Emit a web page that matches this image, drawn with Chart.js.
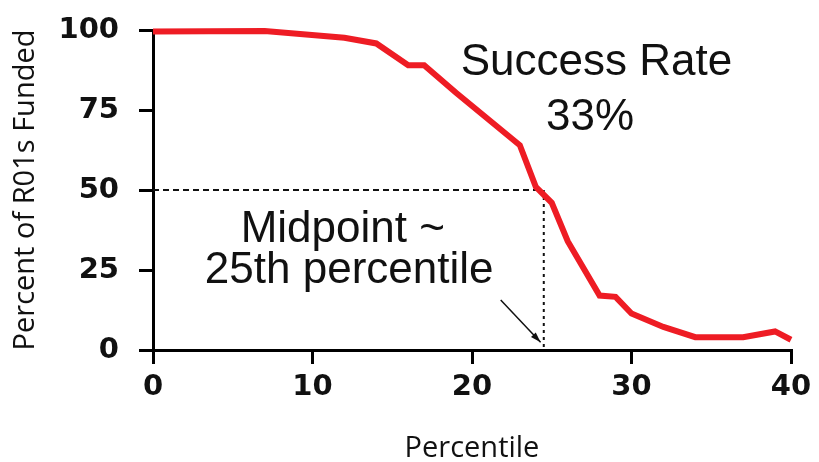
<!DOCTYPE html>
<html>
<head>
<meta charset="utf-8">
<script src="https://cdn.jsdelivr.net/npm/chart.js@4.4.1/dist/chart.umd.min.js"></script>
<style>
  html, body { margin: 0; padding: 0; background: #fff; }
  #wrap { width: 819px; height: 462px; }
</style>
</head>
<body>
<div id="wrap"><canvas id="chart" width="819" height="462"></canvas></div>
<script>
// ====== DATA ======
const percentiles = [0, 7, 12, 14, 16, 17, 19, 23, 24, 25, 26, 28, 29, 30, 32, 34, 37, 39, 40];
const fundedPct = [99.5, 99.7, 97.6, 95.8, 89, 89, 80.4, 64, 51, 46, 34, 17, 16.6, 11.4, 7.2, 4, 4, 5.8, 3.2];
const xTicks = [0, 10, 20, 30, 40];
const yTicks = [0, 25, 50, 75, 100];
const midpointX = 24.5;
const midpointY = 50;

// ====== ANNOTATIONS (text + arrow) ======
const annotations = {
  id: "annotations",
  afterDatasetsDraw(chart) {
    const { ctx, scales: { x, y } } = chart;
    ctx.save();
    ctx.fillStyle = "#111";
    ctx.textAlign = "center";
    ctx.textBaseline = "alphabetic";
    ctx.font = "44px 'Liberation Sans', Arial, sans-serif";
    ctx.fillText("Success Rate", x.getPixelForValue(27.8), y.getPixelForValue(85.9));
    ctx.fillText("33%", x.getPixelForValue(27.4), y.getPixelForValue(68.8));
    ctx.fillText("Midpoint ~", x.getPixelForValue(11.9), y.getPixelForValue(33.8));
    ctx.fillText("25th percentile", x.getPixelForValue(12.3), y.getPixelForValue(20.9));

    // arrow pointing at the midpoint
    const x0 = x.getPixelForValue(21.8), y0 = y.getPixelForValue(15.6);
    const x1 = x.getPixelForValue(24.3), y1 = y.getPixelForValue(2.4);
    ctx.strokeStyle = "#111";
    ctx.lineWidth = 1.5;
    ctx.beginPath();
    ctx.moveTo(x0, y0);
    ctx.lineTo(x1, y1);
    ctx.stroke();
    const ang = Math.atan2(y1 - y0, x1 - x0);
    ctx.beginPath();
    ctx.moveTo(x1, y1);
    ctx.lineTo(x1 - 11 * Math.cos(ang - 0.3), y1 - 11 * Math.sin(ang - 0.3));
    ctx.lineTo(x1 - 11 * Math.cos(ang + 0.3), y1 - 11 * Math.sin(ang + 0.3));
    ctx.closePath();
    ctx.fill();
    ctx.restore();
  }
};

// ====== CHART ======
const ctx = document.getElementById("chart").getContext("2d");
new Chart(ctx, {
  type: "scatter",
  data: {
    datasets: [
      {
        data: percentiles.map((p, i) => ({ x: p, y: fundedPct[i] })),
        showLine: true,
        borderColor: "#ee1c24",
        borderWidth: 6,
        pointRadius: 0,
        tension: 0,
        clip: false,
        order: 0
      },
      {
        data: [{ x: 0, y: midpointY }, { x: 24.1, y: midpointY }],
        showLine: true,
        borderColor: "#111",
        borderWidth: 2,
        borderDash: [6, 4],
        pointRadius: 0,
        order: 1
      },
      {
        data: [{ x: midpointX, y: midpointY }, { x: midpointX, y: 0 }],
        showLine: true,
        borderColor: "#111",
        borderWidth: 2,
        borderDash: [3, 4],
        pointRadius: 0,
        order: 1
      }
    ]
  },
  options: {
    responsive: false,
    animation: false,
    layout: { padding: { top: 30, right: 28, left: 0, bottom: 0 } },
    plugins: { legend: { display: false }, tooltip: { enabled: false } },
    scales: {
      x: {
        type: "linear",
        min: 0,
        max: 40,
        afterBuildTicks: axis => { axis.ticks = xTicks.map(v => ({ value: v })); },
        afterFit: axis => { axis.height = 112; axis.paddingLeft = 0; axis.paddingRight = 0; },
        grid: { drawOnChartArea: false, drawTicks: true, tickLength: 14, color: "#000", lineWidth: 3 },
        border: { display: true, color: "#000", width: 3 },
        ticks: { color: "#111", padding: 6, font: { family: "DejaVu Sans", weight: "bold", size: 29 } },
        title: { display: true, text: "Percentile", color: "#111", padding: { top: 0, bottom: 0 },
                 font: { family: "Open Sans", size: 29, lineHeight: 0.9 } }
      },
      y: {
        type: "linear",
        min: 0,
        max: 100,
        afterBuildTicks: axis => { axis.ticks = yTicks.map(v => ({ value: v })); },
        afterFit: axis => { axis.width = 153; axis.paddingTop = 0; axis.paddingBottom = 0; },
        grid: { drawOnChartArea: false, drawTicks: true, tickLength: 14, color: "#000", lineWidth: 3 },
        border: { display: true, color: "#000", width: 3 },
        ticks: { color: "#111", padding: 20, font: { family: "DejaVu Sans", weight: "bold", size: 29 } },
        title: { display: true, text: "Percent of R01s Funded", color: "#111", padding: { top: 8, bottom: 0 },
                 font: { family: "Open Sans", size: 29 } }
      }
    }
  },
  plugins: [annotations]
});
</script>
</body>
</html>
